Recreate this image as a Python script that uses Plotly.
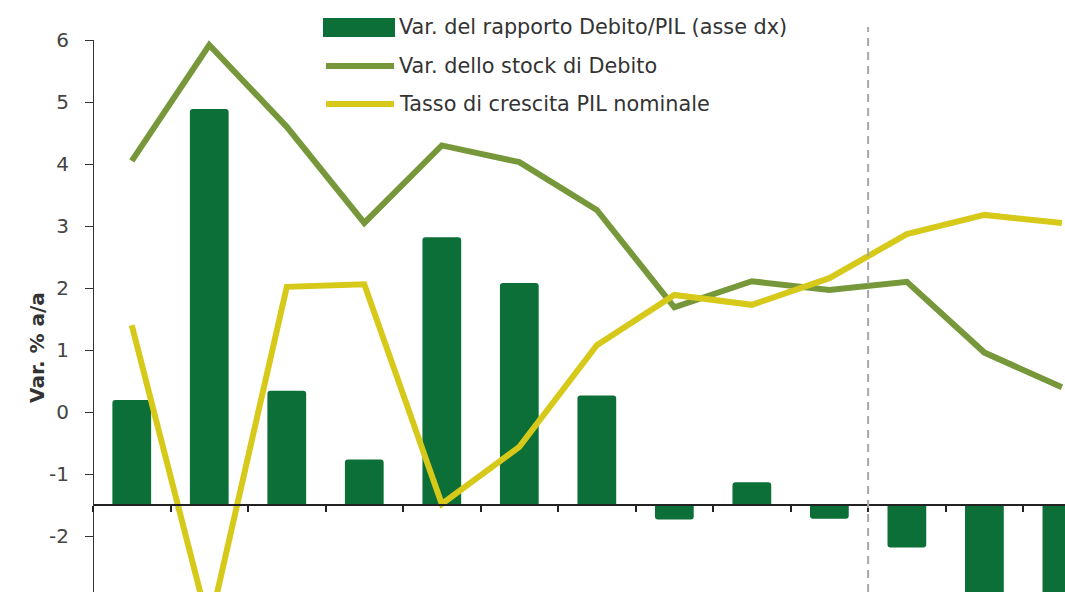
import plotly.graph_objects as go

years = ["2008", "2009", "2010", "2011", "2012", "2013", "2014",
         "2015", "2016", "2017", "2018", "2019", "2020"]
# right axis (asse dx): change in debt/GDP ratio, p.p.
debt_ratio_change = [2.71, 10.22, 2.95, 1.18, 6.91, 5.73, 2.83,
                     -0.37, 0.59, -0.35, -1.09, -2.8, -2.5]
# left axis: % y/y
debt_stock_change = [4.05, 5.92, 4.60, 3.05, 4.30, 4.03, 3.26,
                     1.69, 2.11, 1.97, 2.10, 0.96, 0.40]
gdp_growth = [1.40, -3.47, 2.02, 2.06, -1.48, -0.56, 1.08,
              1.89, 1.73, 2.16, 2.87, 3.18, 3.05]
left_ticks = [-3, -2, -1, 0, 1, 2, 3, 4, 5, 6]
left_labels = ["-3", "-2", "-1", "0", "1", "2", "3", "4", "5", "6"]
legend_names = ["Var. del rapporto Debito/PIL (asse dx)",
                "Var. dello stock di Debito",
                "Tasso di crescita PIL nominale"]

DARK = "#0b6f37"
OLIVE = "#77983a"
YELLOW = "#d7c91a"
FONT = "DejaVu Sans"

W, H = 1065, 592
L, R, T, B = 93, 0, 40, 0
left_range = [-2.9, 6]
baseline = -1.5  # left value where the right axis has its zero
scale = 1.6      # right units per left unit
right_range = [(v - baseline) * scale for v in left_range]


def px_x(px):
    return (px - L) / (W - L - R)


def px_y(py):
    return (H - B - py) / (H - T - B)


fig = go.Figure()
fig.add_trace(go.Bar(
    x=years, y=debt_ratio_change, name=legend_names[0], yaxis="y",
    marker=dict(color=DARK, line=dict(width=0), cornerradius=3),
    width=0.5, showlegend=False,
))
fig.add_trace(go.Scatter(
    x=years, y=debt_stock_change, name=legend_names[1], yaxis="y2",
    mode="lines", line=dict(color=OLIVE, width=6), showlegend=False,
))
fig.add_trace(go.Scatter(
    x=years, y=gdp_growth, name=legend_names[2], yaxis="y2",
    mode="lines", line=dict(color=YELLOW, width=6), showlegend=False,
))

x_pos = (baseline - left_range[0]) / (left_range[1] - left_range[0])

fig.update_layout(
    width=W, height=H,
    margin=dict(l=L, r=R, t=T, b=B, pad=0, autoexpand=False),
    paper_bgcolor="white", plot_bgcolor="white",
    font=dict(family=FONT, color="#3a3a3a"),
    xaxis=dict(
        type="category", range=[-0.5, 12.04], anchor="free", position=x_pos,
        showline=True, linecolor="#222", linewidth=1.5, automargin=False,
        ticks="outside", tickson="boundaries", ticklen=6, tickcolor="#222",
        tickwidth=1.5, showticklabels=False, showgrid=False, zeroline=False,
    ),
    yaxis=dict(
        range=right_range, side="right", visible=False, automargin=False,
        showgrid=False, zeroline=False,
    ),
    yaxis2=dict(
        range=left_range, overlaying="y", side="left", anchor="free", position=0,
        tickvals=left_ticks, ticktext=left_labels, automargin=False,
        showline=True, linecolor="#333", linewidth=1.2,
        ticks="outside", ticklen=8, tickcolor="#333", tickwidth=1.2,
        ticklabelstandoff=12,
        tickfont=dict(family=FONT, size=20, color="#444"),
        showgrid=False, zeroline=False,
    ),
)

# forecast separator
fig.add_shape(type="line", xref="x", yref="paper", x0=9.5, x1=9.5,
              y0=0, y1=px_y(27), line=dict(color="#a8a8a8", width=2, dash="8px,6px"))

# y title
fig.add_annotation(text="<b>Var. % a/a</b>", xref="paper", yref="paper",
                   x=px_x(23), y=px_y(348), textangle=-90, showarrow=False,
                   font=dict(family=FONT, size=20, color="#333"))

# legend
rows = [27, 66, 104]
fig.add_shape(type="rect", xref="paper", yref="paper",
              x0=px_x(323), x1=px_x(395), y0=px_y(37), y1=px_y(18),
              fillcolor=DARK, line=dict(width=0), layer="above")
for py, color in zip(rows[1:], [OLIVE, YELLOW]):
    fig.add_shape(type="line", xref="paper", yref="paper",
                  x0=px_x(326), x1=px_x(394), y0=px_y(py), y1=px_y(py),
                  line=dict(color=color, width=6), layer="above")
for py, name in zip(rows, legend_names):
    fig.add_annotation(text=name, xref="paper", yref="paper",
                       x=px_x(397), y=px_y(py), xanchor="left", yanchor="middle",
                       showarrow=False, font=dict(family=FONT, size=20.8, color="#333"))

# drop the default page margin so the figure fills the window exactly
fig.write_html("out.html", config={"displayModeBar": False},
               post_script="document.body.style.margin = '0';")
